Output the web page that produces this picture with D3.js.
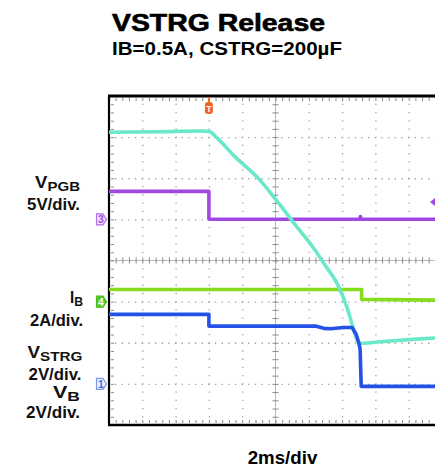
<!DOCTYPE html>
<html>
<head>
	<meta charset="utf-8">
	<script src="https://cdnjs.cloudflare.com/ajax/libs/d3/7.8.5/d3.min.js"></script>
	<style>
		body {
			margin: 0;
			background: #fff;
			font-family: "Liberation Sans", Arial, Helvetica, sans-serif;
		}
		.grid line { stroke: #a0a0a0; stroke-width: 1.3; }
		.grid path, .ticks path { display: none; }
		.ticks line { stroke: #8a8a8a; stroke-width: 1; }
	</style>
</head>
<body>
	<svg width="435" height="468"></svg>
	<script>
	// time base: 2 ms/div, 10 divisions
	const timeDomain = [0, 20];
	// scope channel settings (units per division, ground marker in divisions)
	const ch1 = {perDiv: 2, ground: -3};   // VB, VSTRG
	const ch3 = {perDiv: 5, ground: 1};    // VPGB
	const ch4 = {perDiv: 2, ground: -1};   // IB
	const triggerTime = 6;
	const ch3TrigLevel = 2.1;

	// traces (ms, V or A)
	const vstrgT = [0, 3, 5.5, 6.0, 6.5, 7.5, 9.07, 10.27, 11.05, 12.37, 12.97, 13.69, 14.29, 14.65, 14.95, 15.1, 16.5, 18, 20];
	const vstrgV = [12.24, 12.26, 12.3, 12.28, 11.95, 11.1, 9.91, 8.7, 7.88, 6.51, 5.78, 4.9, 3.73, 2.76, 2.05, 1.97, 2.06, 2.15, 2.25];

	const vpgbT = [0, 6.0, 6.0, 15.05, 15.1, 15.15, 20];
	const vpgbV = [3.4, 3.4, 0.02, 0.02, 0.35, 0.02, 0.02];

	const ibT = [0, 15.17, 15.17, 20];
	const ibV = [0.59, 0.59, 0.11, 0.07];

	const vbT = [0, 6.0, 6.0, 12.4, 12.9, 13.3, 14.1, 14.6, 14.85, 15.0, 15.08, 15.15, 20];
	const vbV = [3.38, 3.38, 2.81, 2.81, 2.7, 2.68, 2.74, 2.74, 2.4, 2.0, 1.7, -0.12, -0.12];

	// side labels: main text, subscript
	const labelMain = ["V", "5V/div.", "I", "2A/div.", "V", "2V/div.", "V", "2V/div."];
	const labelSub = ["PGB", "", "B", "", "STRG", "", "B", ""];

	const svg = d3.select("svg");
	const x = d3.scaleLinear().domain(timeDomain).range([109, 442]);
	const y = d3.scaleLinear().domain([-4, 4]).range([425, 96]);
	const pos = (ch, v) => y(v / ch.perDiv + ch.ground);

	// titles
	svg.append("text").attr("x", 112).attr("y", 31)
		.attr("textLength", 213).attr("lengthAdjust", "spacingAndGlyphs")
		.style("font-size", "23px").style("font-weight", "bold")
		.attr("stroke", "#000").attr("stroke-width", 0.6)
		.text("VSTRG Release");
	svg.append("text").attr("x", 112).attr("y", 55)
		.attr("textLength", 230).attr("lengthAdjust", "spacingAndGlyphs")
		.style("font-size", "17.5px").style("font-weight", "bold")
		.text("IB=0.5A, CSTRG=200µF");

	const plot = svg.append("g");
	const minorX = d3.range(0, 20.001, 0.4);
	const minorY = d3.range(-4, 4.001, 0.2);

	// dotted grid
	plot.append("g").attr("class", "grid")
		.attr("transform", "translate(0," + y(-4) + ")")
		.call(d3.axisBottom(x).tickValues([2, 4, 6, 8, 12, 14, 16, 18]).tickSize(-(y(-4) - y(4))).tickFormat(""))
		.selectAll("line").attr("stroke-dasharray", "1.3,6.92").attr("stroke-dashoffset", 0.65);
	plot.append("g").attr("class", "grid")
		.attr("transform", "translate(" + x(0) + ",0)")
		.call(d3.axisLeft(y).tickValues([-3, -2, -1, 1, 2, 3]).tickSize(-(x(20) - x(0))).tickFormat(""))
		.selectAll("line").attr("stroke-dasharray", "1.3,5.36").attr("stroke-dashoffset", 0.65);

	// centre lines with minor ticks
	plot.append("line").attr("x1", x(0)).attr("x2", x(20)).attr("y1", y(0)).attr("y2", y(0))
		.attr("stroke", "#b8b8b8").attr("stroke-width", 1);
	plot.append("line").attr("x1", x(10)).attr("x2", x(10)).attr("y1", y(-4)).attr("y2", y(4))
		.attr("stroke", "#b8b8b8").attr("stroke-width", 1);
	plot.append("g").attr("class", "ticks")
		.attr("transform", "translate(0," + (y(0) - 3) + ")")
		.call(d3.axisBottom(x).tickValues(minorX).tickSize(6).tickFormat(""));
	plot.append("g").attr("class", "ticks")
		.attr("transform", "translate(" + (x(10) + 3) + ",0)")
		.call(d3.axisLeft(y).tickValues(minorY).tickSize(6).tickFormat(""));

	// edge ticks
	plot.append("g").attr("class", "ticks")
		.attr("transform", "translate(0," + (y(4) + 2) + ")")
		.call(d3.axisBottom(x).tickValues(minorX).tickSize(3).tickFormat(""));
	plot.append("g").attr("class", "ticks")
		.attr("transform", "translate(0," + (y(-4) - 2) + ")")
		.call(d3.axisTop(x).tickValues(minorX).tickSize(3).tickFormat(""));
	plot.append("g").attr("class", "ticks")
		.attr("transform", "translate(" + (x(0) + 2) + ",0)")
		.call(d3.axisRight(y).tickValues(minorY).tickSize(3).tickFormat(""));

	// frame
	plot.append("line").attr("x1", x(0) - 1).attr("x2", 435).attr("y1", y(4)).attr("y2", y(4))
		.attr("stroke", "#000").attr("stroke-width", 3);
	plot.append("line").attr("x1", x(0) - 1).attr("x2", 435).attr("y1", y(-4)).attr("y2", y(-4))
		.attr("stroke", "#000").attr("stroke-width", 2.5);
	plot.append("line").attr("x1", x(0)).attr("x2", x(0)).attr("y1", y(4)).attr("y2", y(-4))
		.attr("stroke", "#000").attr("stroke-width", 2.2);

	// traces
	function trace(ts, vs, ch, color, curve) {
		const line = d3.line()
			.x(d => x(d[0]))
			.y(d => pos(ch, d[1]))
			.curve(curve || d3.curveLinear);
		plot.append("path")
			.datum(ts.map((t, i) => [t, vs[i]]))
			.attr("d", line)
			.attr("fill", "none")
			.attr("stroke", color)
			.attr("stroke-width", 3.6)
			.attr("stroke-linejoin", "round");
	}
	trace(vpgbT, vpgbV, ch3, "#a148e2");
	trace(ibT, ibV, ch4, "#84dc1c");
	trace(vstrgT, vstrgV, ch1, "#6ae8c8", d3.curveMonotoneX);
	trace(vbT, vbV, ch1, "#2552e6");

	// channel ground markers
	function chMarker(ch, label, stroke, fill, textColor) {
		const cy = y(ch.ground);
		const g = svg.append("g").attr("transform", "translate(96," + cy + ")");
		g.append("path")
			.attr("d", "M0.5,-5.5 H7 L10.5,0 L7,5.5 H0.5 Z")
			.attr("fill", fill).attr("stroke", stroke).attr("stroke-width", 1.2);
		g.append("text").attr("x", 4.8).attr("y", 4)
			.attr("text-anchor", "middle")
			.style("font-size", "10.5px").style("font-weight", "bold")
			.attr("fill", textColor).text(label);
	}
	chMarker(ch3, "3", "#b070ea", "#f1e4fc", "#a04ae0");
	chMarker(ch4, "4", "#4cbc20", "#56c824", "#fff");
	chMarker(ch1, "1", "#7e98f0", "#eef2ff", "#4a6ee8");

	// trigger position marker
	const tg = svg.append("g").attr("transform", "translate(" + x(triggerTime) + ",0)");
	tg.append("line").attr("x1", 0).attr("x2", 0).attr("y1", 97).attr("y2", 103)
		.attr("stroke", "#f06a2a").attr("stroke-width", 2);
	tg.append("rect").attr("x", -4).attr("y", 102).attr("width", 8).attr("height", 12).attr("rx", 3)
		.attr("fill", "#f06428");
	tg.append("text").attr("x", 0).attr("y", 112).attr("text-anchor", "middle")
		.style("font-size", "9px").style("font-weight", "bold").attr("fill", "#fff").text("T");

	// ch3 trigger level marker
	const ty = pos(ch3, ch3TrigLevel);
	svg.append("path")
		.attr("d", "M430," + ty + " L435," + (ty - 4) + " L435," + (ty + 4) + " Z")
		.attr("fill", "#a148e2");

	// side labels, stretched to the widths seen in the picture
	const labelRight = [80, 80, 83, 83, 82.5, 81.5, 80, 80];
	const labelBase = [188, 210, 303, 326.5, 358, 380, 398, 418];
	const labelWidth = [45, 53, 13, 53, 55, 53, 27, 54];
	labelMain.forEach((m, i) => {
		const g = svg.append("g");
		const t = g.append("text")
			.attr("x", 0).attr("y", labelBase[i]).attr("text-anchor", "end")
			.style("font-size", "16px").style("font-weight", "bold").attr("fill", "#111");
		t.append("tspan").text(m);
		if (labelSub[i]) t.append("tspan").attr("dy", 3.5).style("font-size", "13px").text(labelSub[i]);
		const w = t.node().getBBox().width;
		g.attr("transform", "translate(" + labelRight[i] + ",0) scale(" + (labelWidth[i] / w) + ",1)");
	});

	const xt = svg.append("g");
	const xl = xt.append("text").attr("x", 0).attr("y", 464)
		.attr("text-anchor", "middle")
		.style("font-size", "17.5px").style("font-weight", "bold")
		.text("2ms/div");
	xt.attr("transform", "translate(282.5,0) scale(" + (70 / xl.node().getBBox().width) + ",1)");
	</script>
</body>
</html>
